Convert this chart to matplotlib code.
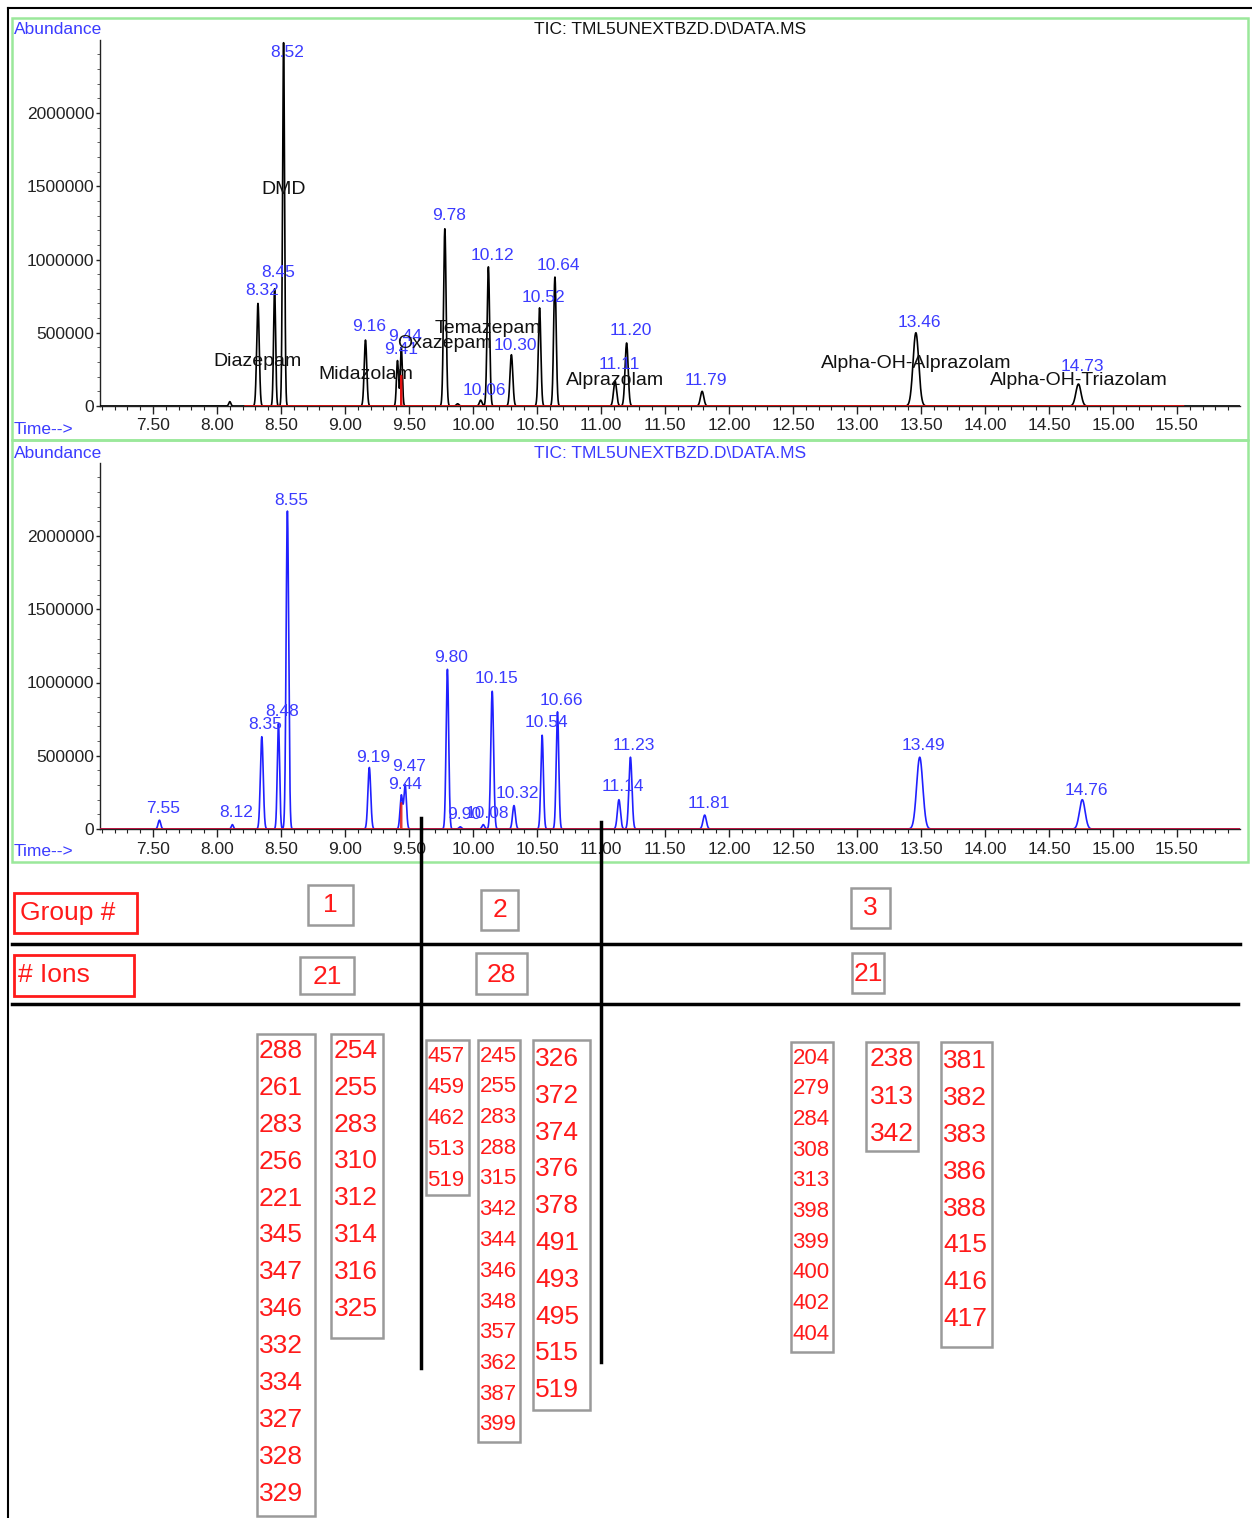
import numpy as np
import matplotlib
matplotlib.use("Agg")
import matplotlib.pyplot as plt
from matplotlib.patches import Rectangle
from matplotlib.ticker import FixedLocator, MultipleLocator

plt.rcParams['font.family'] = ['Liberation Sans', 'DejaVu Sans']

# ---------------- data ----------------
title_text = "TIC: TML5UNEXTBZD.D\\DATA.MS"
y_ticks = [0, 500000, 1000000, 1500000, 2000000]
x_ticks = [7.5, 8.0, 8.5, 9.0, 9.5, 10.0, 10.5, 11.0, 11.5, 12.0, 12.5, 13.0, 13.5, 14.0, 14.5, 15.0, 15.5]

# top chromatogram: retention time, height, width (sigma)
top_rt = [8.10, 8.32, 8.45, 8.52, 9.16, 9.41, 9.44, 9.78, 9.88, 10.06, 10.12, 10.30, 10.52, 10.64, 11.11, 11.20, 11.79, 13.46, 14.73]
top_h = [30000, 700000, 800000, 2480000, 450000, 310000, 400000, 1210000, 15000, 40000, 950000, 350000, 670000, 880000, 170000, 430000, 100000, 500000, 150000]
top_w = [0.008, 0.010, 0.008, 0.008, 0.010, 0.008, 0.008, 0.010, 0.010, 0.010, 0.010, 0.011, 0.010, 0.010, 0.012, 0.012, 0.013, 0.022, 0.020]
top_labels = ["", "8.32", "8.45", "8.52", "9.16", "9.41", "9.44", "9.78", "", "10.06", "10.12", "10.30", "10.52", "10.64", "11.11", "11.20", "11.79", "13.46", "14.73"]
top_label_y = [0, 785000, 908000, 2410000, 546000, 389000, 471000, 1297000, 0, 109000, 1030000, 416000, 744000, 956000, 280000, 512000, 177000, 567000, 273000]

top_names = ["DMD", "Diazepam", "Midazolam", "Oxazepam", "Temazepam", "Alprazolam", "Alpha-OH-Alprazolam", "Alpha-OH-Triazolam"]
top_name_rt = [8.52, 8.32, 9.16, 9.78, 10.12, 11.11, 13.46, 14.73]
top_name_y = [1480000, 307000, 218000, 430000, 532000, 171000, 287000, 171000]

# red overlay trace spike
red_rt = 9.44
red_top_h = 210000
red_bot_h = 180000

# bottom chromatogram
bot_rt = [7.55, 8.12, 8.35, 8.48, 8.55, 9.19, 9.44, 9.47, 9.80, 9.90, 10.08, 10.15, 10.32, 10.54, 10.66, 11.14, 11.23, 11.81, 13.49, 14.76]
bot_h = [60000, 30000, 630000, 720000, 2170000, 420000, 230000, 300000, 1090000, 15000, 30000, 940000, 160000, 640000, 800000, 200000, 490000, 95000, 490000, 200000]
bot_w = [0.010, 0.008, 0.011, 0.009, 0.010, 0.011, 0.010, 0.010, 0.010, 0.010, 0.010, 0.011, 0.011, 0.010, 0.010, 0.012, 0.012, 0.013, 0.024, 0.022]
bot_labels = ["7.55", "8.12", "8.35", "8.48", "8.55", "9.19", "9.44", "9.47", "9.80", "9.90", "10.08", "10.15", "10.32", "10.54", "10.66", "11.14", "11.23", "11.81", "13.49", "14.76"]
bot_label_y = [137000, 116000, 710000, 800000, 2240000, 485000, 307000, 430000, 1174000, 96000, 109000, 1024000, 239000, 724000, 880000, 287000, 567000, 171000, 567000, 266000]

group_boundaries = [9.594, 11.0]
group_ids = ["1", "2", "3"]
ion_counts = ["21", "28", "21"]

group1_col1 = [288, 261, 283, 256, 221, 345, 347, 346, 332, 334, 327, 328, 329]
group1_col2 = [254, 255, 283, 310, 312, 314, 316, 325]
group2_col1 = [457, 459, 462, 513, 519]
group2_col2 = [245, 255, 283, 288, 315, 342, 344, 346, 348, 357, 362, 387, 399]
group2_col3 = [326, 372, 374, 376, 378, 491, 493, 495, 515, 519]
group3_col1 = [204, 279, 284, 308, 313, 398, 399, 400, 402, 404]
group3_col2 = [238, 313, 342]
group3_col3 = [381, 382, 383, 386, 388, 415, 416, 417]

# ---------------- figure ----------------
W, H = 1252, 1518
fig = plt.figure(figsize=(W / 100, H / 100), dpi=100)
fig.patch.set_facecolor('white')

BLUE = '#3b3bff'
XL = (7.5 - 53 / 128, 7.5 + 1087 / 128)
YL = (0, 366 / 146.5e-6)
FS = 12.5


def px_axes(top_px, bottom_px):
    return [100 / W, (H - bottom_px) / H, (1240 - 100) / W, (bottom_px - top_px) / H]


def trace(x, rts, hs, ws):
    y = np.zeros_like(x)
    for r, h, w in zip(rts, hs, ws):
        y += h * np.exp(-0.5 * ((x - r) / w) ** 2)
    return y


def style_axes(ax):
    ax.set_xlim(*XL)
    ax.set_ylim(*YL)
    ax.set_facecolor('none')
    for s in ['top', 'right']:
        ax.spines[s].set_visible(False)
    for s in ['left', 'bottom']:
        ax.spines[s].set_linewidth(1.0)
        ax.spines[s].set_color('#222222')
    ax.xaxis.set_major_locator(FixedLocator(x_ticks))
    ax.set_xticklabels(["%.2f" % t for t in x_ticks])
    ax.xaxis.set_minor_locator(MultipleLocator(0.1))
    ax.yaxis.set_major_locator(FixedLocator(y_ticks))
    ax.set_yticklabels([str(t) for t in y_ticks])
    ax.yaxis.set_minor_locator(MultipleLocator(100000))
    ax.tick_params(axis='x', which='major', length=6, width=1, pad=3, labelsize=FS, colors='#222222')
    ax.tick_params(axis='x', which='minor', length=3, width=0.8, colors='#222222')
    ax.tick_params(axis='y', which='major', length=3, width=1, pad=1, labelsize=FS, colors='#222222')
    ax.tick_params(axis='y', which='minor', length=2, width=0.6, colors='#444444')


x = np.linspace(XL[0], XL[1], 16000)

# top chart
ax1 = fig.add_axes(px_axes(40, 406))
style_axes(ax1)
ax1.plot(x, trace(x, top_rt, top_h, top_w), color='black', lw=1.2, zorder=3)
xr = x[(x >= 8.22) & (x <= 15.55)]
ax1.plot(xr, trace(xr, [red_rt], [red_top_h], [0.0008]), color='#e01010', lw=1.3, zorder=4)
for r, lab, ly in zip(top_rt, top_labels, top_label_y):
    if lab:
        ax1.text(r + 0.03, ly, lab, color=BLUE, fontsize=FS, ha='center', va='center', zorder=5)
for nm, r, ny in zip(top_names, top_name_rt, top_name_y):
    ax1.text(r, ny, nm, color='#111111', fontsize=14, ha='center', va='center', zorder=5)

# bottom chart
ax2 = fig.add_axes(px_axes(463, 829))
style_axes(ax2)
ax2.plot(x, trace(x, bot_rt, bot_h, bot_w), color='#2020ff', lw=1.2, zorder=3)
ax2.plot(x, trace(x, [red_rt], [red_bot_h], [0.0008]), color='#e01010', lw=1.3, zorder=4, alpha=0.85)
for r, lab, ly in zip(bot_rt, bot_labels, bot_label_y):
    ax2.text(r + 0.03, ly, lab, color=BLUE, fontsize=FS, ha='center', va='center', zorder=5)

# ---------------- overlay in pixel coordinates ----------------
ov = fig.add_axes([0, 0, 1, 1], zorder=10)
ov.set_xlim(0, W)
ov.set_ylim(H, 0)
ov.axis('off')
ov.patch.set_visible(False)

# outer frame
ov.plot([8, W], [8, 8], color='black', lw=1.5)
ov.plot([8, 8], [8, H], color='black', lw=1.5)
# green frames
for (y0, y1) in [(18, 440), (440, 862)]:
    ov.add_patch(Rectangle((12, y0), 1236, y1 - y0, fill=False, ec='#9be89b', lw=1.8))

ov.text(14, 30, "Abundance", color=BLUE, fontsize=FS, ha='left', va='center')
ov.text(14, 429, "Time-->", color=BLUE, fontsize=FS, ha='left', va='center')
ov.text(670, 30, title_text, color='#111111', fontsize=FS, ha='center', va='center')
ov.text(14, 453, "Abundance", color=BLUE, fontsize=FS, ha='left', va='center')
ov.text(14, 852, "Time-->", color=BLUE, fontsize=FS, ha='left', va='center')
ov.text(670, 453, title_text, color=BLUE, fontsize=FS, ha='center', va='center')

# group boundary lines (x position converted from retention time)
def rt_to_px(r):
    return 153 + (r - 7.5) * 128

ov.plot([rt_to_px(group_boundaries[0])] * 2, [818, 1368], color='black', lw=2.5)
ov.plot([rt_to_px(group_boundaries[1])] * 2, [822, 1362], color='black', lw=2.5)
ov.plot([12, 1240], [944, 944], color='black', lw=2.5)
ov.plot([12, 1238], [1004, 1004], color='black', lw=2.5)

RED = '#ff1a1a'
GREY = '#9a9a9a'
ov.add_patch(Rectangle((14, 893), 123, 40, fill=False, ec=RED, lw=2))
ov.text(20, 913, "Group #", color=RED, fontsize=19, ha='left', va='center')
ov.add_patch(Rectangle((14, 955), 120, 41, fill=False, ec=RED, lw=2))
ov.text(18, 975, "# Ions", color=RED, fontsize=19, ha='left', va='center')

group_boxes = [(308, 885, 353, 925), (481, 890, 518, 930), (851, 888, 890, 928)]
count_boxes = [(300, 957, 354, 994), (476, 953, 527, 994), (852, 953, 884, 993)]
for (x0, y0, x1, y1), t in zip(group_boxes, group_ids):
    ov.add_patch(Rectangle((x0, y0), x1 - x0, y1 - y0, fill=False, ec=GREY, lw=1.8))
    ov.text((x0 + x1) / 2, (y0 + y1) / 2, t, color=RED, fontsize=19, ha='center', va='center')
for (x0, y0, x1, y1), t in zip(count_boxes, ion_counts):
    ov.add_patch(Rectangle((x0, y0), x1 - x0, y1 - y0, fill=False, ec=GREY, lw=1.8))
    ov.text((x0 + x1) / 2, (y0 + y1) / 2 + 1, t, color=RED, fontsize=19, ha='center', va='center')

ion_columns = [group1_col1, group1_col2, group2_col1, group2_col2, group2_col3,
               group3_col1, group3_col2, group3_col3]
# layout: box x0, y0, x1, y1, text centre x, first text y, step, font size
col_layout = [
    (257, 1034, 315, 1516, 281, 1051, 36.9, 19),
    (331, 1034, 383, 1338, 356, 1051, 36.8, 19),
    (426, 1040, 469, 1195, 446, 1057, 30.8, 16),
    (478, 1040, 520, 1442, 498, 1056, 30.75, 16),
    (533, 1040, 590, 1410, 557, 1059, 36.8, 19),
    (791, 1042, 833, 1352, 811, 1058, 30.7, 16),
    (866, 1042, 918, 1151, 892, 1059, 37.5, 19),
    (941, 1042, 992, 1347, 965, 1061, 36.9, 19),
]
for vals, (x0, y0, x1, y1, cx, fy, st, fs) in zip(ion_columns, col_layout):
    ov.add_patch(Rectangle((x0, y0), x1 - x0, y1 - y0, fill=False, ec=GREY, lw=1.8))
    for i, v in enumerate(vals):
        ov.text(cx, fy + i * st, str(v), color=RED, fontsize=fs, ha='center', va='center')

fig.savefig("out.png", dpi=100, facecolor='white')
